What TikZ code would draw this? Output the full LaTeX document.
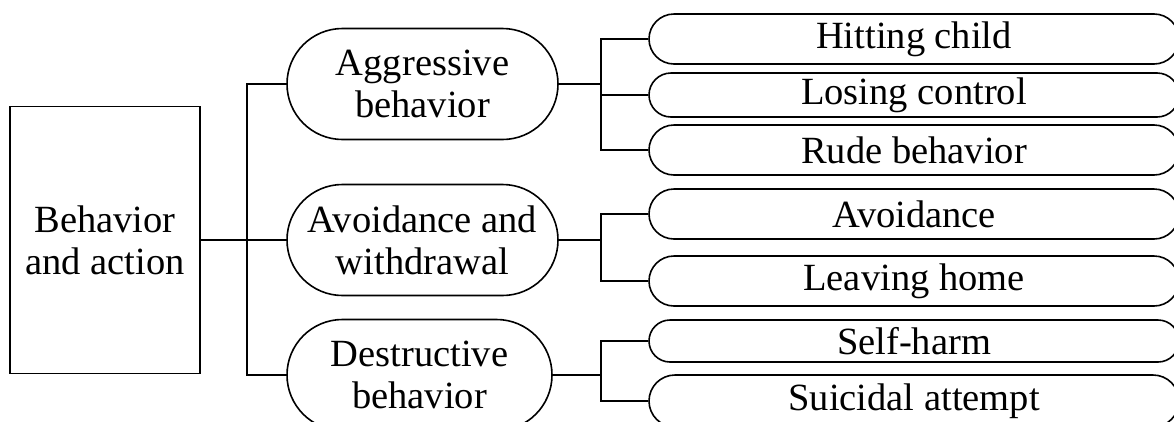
\documentclass[tikz,border=0pt]{standalone}
\usepackage{fontspec}
\setmainfont{Liberation Serif}
\usetikzlibrary{shapes.misc}
\begin{document}
\begin{tikzpicture}[x=1pt,y=-1pt,
  every node/.style={font=\fontsize{38.5}{42}\selectfont, align=center, inner sep=0pt},
  rootbox/.style={draw, line width=1.6pt, rectangle, minimum width=190pt, minimum height=267pt},
  midbox/.style={draw, line width=1.6pt, rounded rectangle, minimum width=271pt, minimum height=111pt},
  leafbox/.style={draw, line width=1.6pt, rounded rectangle, minimum width=530pt},
  link/.style={line width=1.5pt}]
\useasboundingbox (0,0) rectangle (1174,421);
\clip (0,0) rectangle (1174,421);
\fill[white] (0,0) rectangle (1174,421);

% root and first level
\node[rootbox] (root) at (105,240) {Behavior\\and action};
\node[midbox] (agg) at (422.5,84) {Aggressive\\behavior};
\node[midbox] (avo) at (422.5,240) {Avoidance and\\withdrawal};
\node[midbox, minimum width=265pt] (des) at (419.5,375) {Destructive\\behavior};

% leaves
\node[leafbox, minimum height=50pt] (hit) at (914,39) {Hitting child};
\node[leafbox, minimum height=44pt] (los) at (914,95) {Losing control};
\node[leafbox, minimum height=50pt] (rud) at (914,150) {Rude behavior};
\node[leafbox, minimum height=50pt] (avl) at (914,214) {Avoidance};
\node[leafbox, minimum height=50pt] (lea) at (914,281) {Leaving home};
\node[leafbox, minimum height=42pt] (sel) at (914,341) {Self-harm};
\node[leafbox, minimum height=52pt] (sui) at (914,401) {Suicidal attempt};

% trunk positions of the bracket connectors
\coordinate (trunkA) at (247,0);
\coordinate (trunkB) at (601,0);

% root to first level
\draw[link] (root.east) -- (avo.west);
\draw[link] (agg.west) -- (agg.west -| trunkA) -- (des.west -| trunkA) -- (des.west);

% aggressive behavior
\draw[link] (agg.east) -- (agg.east -| trunkB);
\draw[link] (hit.west) -- (hit.west -| trunkB) -- (rud.west -| trunkB) -- (rud.west);
\draw[link] (los.west) -- (los.west -| trunkB);

% avoidance and withdrawal
\draw[link] (avo.east) -- (avo.east -| trunkB);
\draw[link] (avl.west) -- (avl.west -| trunkB) -- (lea.west -| trunkB) -- (lea.west);

% destructive behavior
\draw[link] (des.east) -- (des.east -| trunkB);
\draw[link] (sel.west) -- (sel.west -| trunkB) -- (sui.west -| trunkB) -- (sui.west);
\end{tikzpicture}
\end{document}
